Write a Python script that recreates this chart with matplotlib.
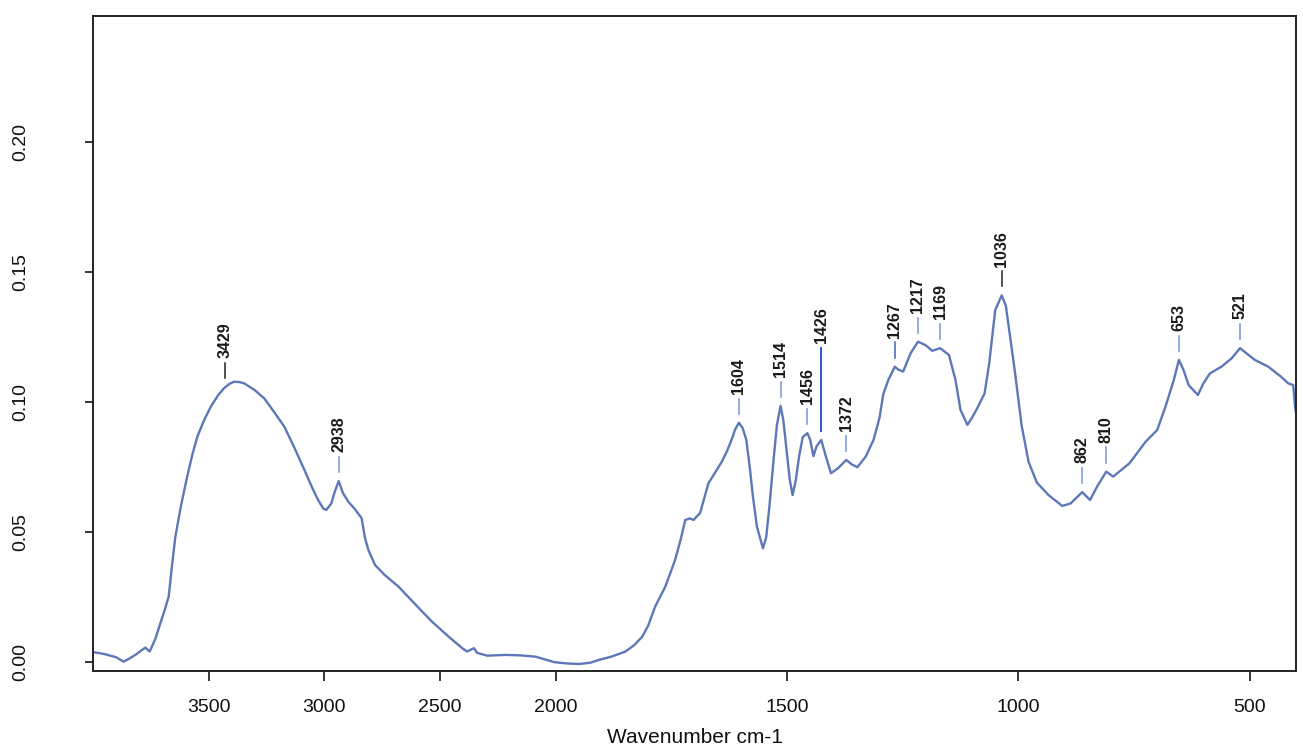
import numpy as np
import matplotlib
matplotlib.use('Agg')
import matplotlib.pyplot as plt

# FTIR absorbance spectrum
wavenumber = [
    4000, 3950, 3900, 3868, 3845, 3817, 3790, 3774, 3755, 3730,
    3709, 3690, 3673, 3660, 3644, 3620, 3593, 3570, 3549, 3520,
    3491, 3460, 3434, 3410, 3390, 3370, 3347, 3300, 3260, 3220,
    3173, 3130, 3086, 3050, 3027, 3005, 2991, 2970, 2955, 2938,
    2920, 2897, 2870, 2839, 2825, 2810, 2781, 2740, 2680, 2600,
    2535, 2460, 2400, 2383, 2365, 2353, 2340, 2296, 2216, 2150,
    2086, 2040, 2006, 1975, 1949, 1925, 1906, 1880, 1849, 1830,
    1813, 1800, 1785, 1770, 1763, 1742, 1730, 1720, 1710, 1702,
    1695, 1688, 1679, 1670, 1655, 1641, 1630, 1620, 1612, 1604,
    1596, 1588, 1580, 1574, 1565, 1552, 1545, 1538, 1530, 1522,
    1514, 1508, 1502, 1494, 1488, 1481, 1474, 1466, 1456, 1450,
    1443, 1436, 1426, 1416, 1405, 1390, 1372, 1360, 1348, 1330,
    1313, 1300, 1292, 1281, 1267, 1260, 1249, 1233, 1217, 1201,
    1186, 1169, 1150, 1136, 1125, 1110, 1100, 1091, 1073, 1063,
    1050, 1036, 1027, 1007, 993, 978, 960, 935, 905, 887,
    862, 845, 830, 810, 795, 760, 725, 700, 682, 664,
    653, 643, 632, 612, 600, 586, 561, 539, 521, 489,
    460, 432, 417, 406, 402, 400,
]
absorbance = [
    0.0038, 0.0030, 0.0018, 0.0001, 0.0012, 0.0027, 0.0045, 0.0055, 0.0040, 0.0090,
    0.0149, 0.0200, 0.0251, 0.0360, 0.0482, 0.0600, 0.0713, 0.0800, 0.0867, 0.0930,
    0.0982, 0.1025, 0.1053, 0.1070, 0.1078, 0.1077, 0.1072, 0.1045, 0.1014, 0.0965,
    0.0905, 0.0825, 0.0738, 0.0665, 0.0623, 0.0590, 0.0585, 0.0610, 0.0655, 0.0696,
    0.0650, 0.0617, 0.0590, 0.0553, 0.0480, 0.0431, 0.0373, 0.0335, 0.0290, 0.0215,
    0.0155, 0.0095, 0.0050, 0.0040, 0.0048, 0.0053, 0.0035, 0.0024, 0.0027, 0.0025,
    0.0020, 0.0008, -0.0001, -0.0006, -0.0008, -0.0003, 0.0008, 0.0020, 0.0040, 0.0065,
    0.0097, 0.0140, 0.0213, 0.0265, 0.0290, 0.0392, 0.0470, 0.0546, 0.0552, 0.0546,
    0.0560, 0.0572, 0.0630, 0.0687, 0.0730, 0.0770, 0.0810, 0.0854, 0.0895, 0.0920,
    0.0900, 0.0854, 0.0740, 0.0640, 0.0520, 0.0437, 0.0480, 0.0600, 0.0760, 0.0910,
    0.0985, 0.0930, 0.0830, 0.0700, 0.0642, 0.0700, 0.0790, 0.0865, 0.0880, 0.0855,
    0.0792, 0.0830, 0.0854, 0.0790, 0.0726, 0.0745, 0.0777, 0.0760, 0.0749, 0.0790,
    0.0854, 0.0940, 0.1030, 0.1085, 0.1136, 0.1125, 0.1117, 0.1187, 0.1232, 0.1219,
    0.1197, 0.1207, 0.1181, 0.1085, 0.0969, 0.0912, 0.0940, 0.0969, 0.1033, 0.1149,
    0.1354, 0.1410, 0.1370, 0.1110, 0.0910, 0.0770, 0.0690, 0.0642, 0.0600, 0.0610,
    0.0653, 0.0623, 0.0674, 0.0732, 0.0713, 0.0764, 0.0847, 0.0892, 0.0982, 0.1085,
    0.1162, 0.1123, 0.1065, 0.1027, 0.1072, 0.1110, 0.1136, 0.1168, 0.1207, 0.1162,
    0.1136, 0.1097, 0.1072, 0.1065, 0.0982, 0.0960,
]

peak_labels = [3429, 2938, 1604, 1514, 1456, 1426, 1372, 1267, 1217, 1169,
               1036, 862, 810, 653, 521]

x_ticks = [3500, 3000, 2500, 2000, 1500, 1000, 500]
y_ticks = [0.00, 0.05, 0.10, 0.15, 0.20]

# colour / length of the little marker above each peak
mark_color = {3429: '#222222', 1036: '#222222', 1267: '#3d63c4', 1426: '#2f5bd0'}
mark_length = {1426: 0.032}

plt.rcParams['font.family'] = ['Liberation Sans', 'DejaVu Sans']


def forward(x):
    # spectrometer style axis: above 2000 cm-1 compressed by a factor of 2
    x = np.asarray(x, dtype=float)
    return np.where(x > 2000, 2000 + (x - 2000) / 2.0, x)


def inverse(t):
    t = np.asarray(t, dtype=float)
    return np.where(t > 2000, 2000 + (t - 2000) * 2.0, t)


def main():
    fig = plt.figure(figsize=(13.03, 7.52), dpi=100)
    ax = fig.add_axes([0.0714, 0.1077, 0.9232, 0.871])

    ax.set_xscale('function', functions=(forward, inverse))
    ax.plot(wavenumber, absorbance, color='#5d78b8', linewidth=1.7,
            solid_joinstyle='round')
    ax.set_xlim(4000, 400)
    ax.set_ylim(-0.0035, 0.2485)

    # peak annotations
    wn_asc = np.array(wavenumber[::-1], dtype=float)
    ab_asc = np.array(absorbance[::-1], dtype=float)
    for p in peak_labels:
        y_peak = np.interp(p, wn_asc, ab_asc)
        y0 = y_peak + 0.0035
        y1 = y0 + mark_length.get(p, 0.0058)
        ax.plot([p, p], [y0, y1], color=mark_color.get(p, '#7393dc'),
                linewidth=1.4 if p == 1426 else 1.1)
        ax.text(p, y1 + 0.0018, str(p), rotation=90, ha='center', va='bottom',
                fontsize=11.5, fontweight='bold', color='#1a1a1a')

    ax.set_xticks(x_ticks)
    ax.set_xticklabels([str(t) for t in x_ticks])
    ax.set_yticks(y_ticks)
    ax.set_yticklabels(['%.2f' % t for t in y_ticks])
    ax.xaxis.set_minor_locator(matplotlib.ticker.NullLocator())

    ax.tick_params(axis='x', length=7, width=1.1, pad=13, labelsize=14,
                   labelcolor='#111111')
    ax.tick_params(axis='y', length=6, width=1.1, pad=40, labelsize=14,
                   labelrotation=90, labelcolor='#111111')
    for label in ax.get_yticklabels():
        label.set_va('center')

    for side in ['left', 'right', 'top', 'bottom']:
        ax.spines[side].set_linewidth(1.4)
        ax.spines[side].set_color('#222222')

    ax.set_xlabel('Wavenumber cm-1', fontsize=15, labelpad=9, color='#111111')

    fig.savefig('out.png', dpi=100)
    plt.close(fig)


if __name__ == '__main__':
    main()
